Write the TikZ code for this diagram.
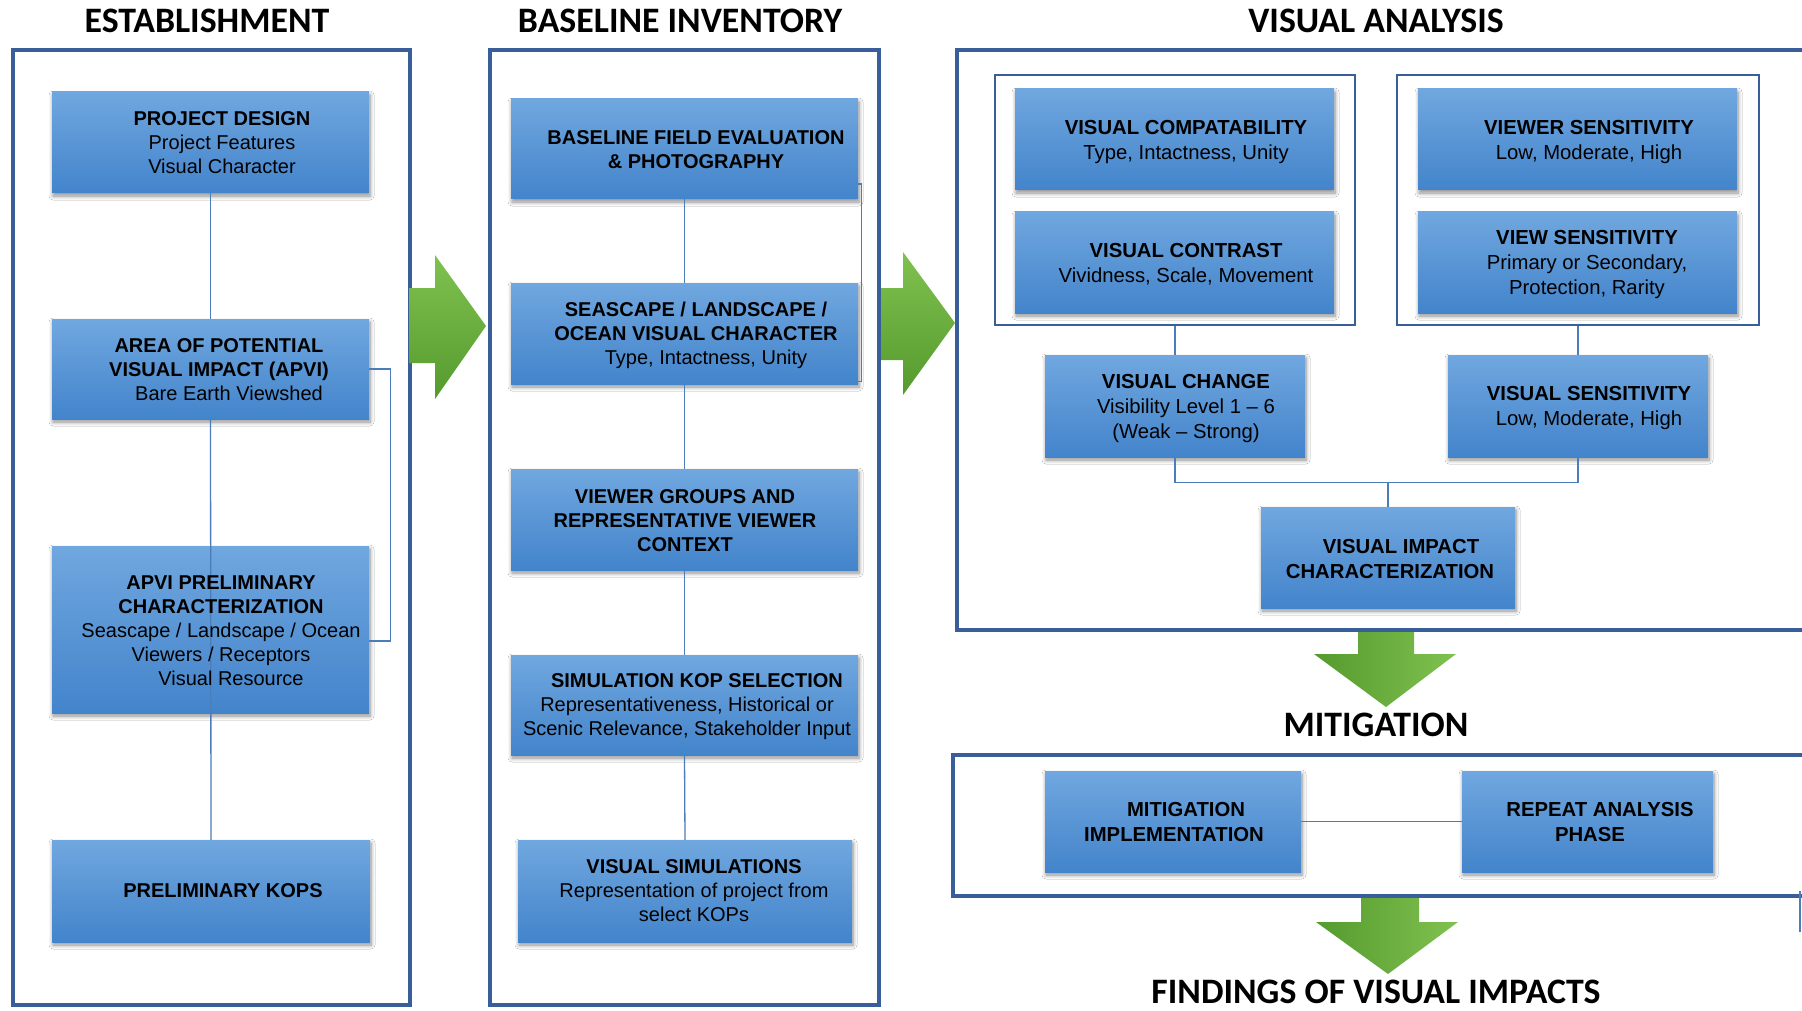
\documentclass[tikz,border=0pt]{standalone}
\usepackage{fontspec}
\setmainfont{Liberation Sans}
\newfontfamily\titlefont{Carlito}
\usetikzlibrary{shadows,shadows.blur,calc}
\definecolor{frameblue}{HTML}{3A5E99}
\definecolor{lineblue}{HTML}{4A7EBB}
\definecolor{boxtop}{HTML}{70A7DF}
\definecolor{boxbot}{HTML}{4384CB}
\definecolor{gdark}{HTML}{559A2E}
\definecolor{glight}{HTML}{80C250}
\begin{document}
\begin{tikzpicture}[x=1pt,y=-1pt,
  frame/.style={draw=frameblue, line width=4pt, inner sep=0pt},
  subframe/.style={draw=frameblue, line width=2pt, inner sep=0pt},
  bbox/.style={top color=boxtop, bottom color=boxbot, draw=none, inner sep=0pt,
    blur shadow={shadow xshift=1pt, shadow yshift=-3pt, shadow blur radius=4pt, shadow blur steps=6, shadow opacity=45}},
  txt/.style={align=center, inner sep=0pt, font=\fontsize{20}{24}\selectfont},
  vtxt/.style={align=center, inner sep=0pt, font=\fontsize{20.3}{25}\selectfont},
  ttl/.style={inner sep=0pt, font=\titlefont\bfseries\fontsize{35.8}{42}\selectfont},
  conn/.style={draw=lineblue, line width=1.3pt},
  rarrow/.style={top color=glight, bottom color=gdark},
  darrow/.style={left color=gdark, right color=glight}
]
\useasboundingbox (0,0) rectangle (1802,1011);
\clip (0,0) rectangle (1802,1011);
\fill[white] (0,0) rectangle (1802,1011);

% titles
\node[ttl] (t1) at (207,21) {ESTABLISHMENT};
\node[ttl] (t2) at (680,21) {BASELINE INVENTORY};
\node[ttl] (t3) at (1376,21) {VISUAL ANALYSIS};
\node[ttl] (t4) at (1376,725) {MITIGATION};
\node[ttl] (t5) at (1376,992) {FINDINGS OF VISUAL IMPACTS};

% frames
\node[frame, minimum width=397pt, minimum height=955pt] (est) at (211.5,527.5) {};
\node[frame, minimum width=389pt, minimum height=955pt] (base) at (684.5,527.5) {};
\node[frame, minimum width=855pt, minimum height=580pt] (va) at (1384.5,340) {};
\node[frame, minimum width=859pt, minimum height=141pt] (mit) at (1382.5,825.5) {};
\node[subframe, minimum width=360pt, minimum height=250pt] (lframe) at (1175,200) {};
\node[subframe, minimum width=362pt, minimum height=250pt] (rframe) at (1578,200) {};

% green arrows
\shade[rarrow] (409,288) -- (435,288) -- (435,255) -- (486,326) -- (435,399) -- (435,363) -- (409,363) -- cycle;
\shade[rarrow] (881,288) -- (903,288) -- (903,252) -- (955,323) -- (903,395) -- (903,360) -- (881,360) -- cycle;
\shade[darrow] (1358,632) -- (1414,632) -- (1414,654) -- (1456,654) -- (1386,707) -- (1314,654) -- (1358,654) -- cycle;
\shade[darrow] (1361,898) -- (1419,898) -- (1419,922) -- (1458,922) -- (1388,974) -- (1316,922) -- (1361,922) -- cycle;

% blue boxes
\node[bbox, minimum width=317pt, minimum height=101pt] (pd) at (210.5,142.5) {};
\node[bbox, minimum width=317pt, minimum height=100pt] (area) at (210.5,369) {};
\node[bbox, minimum width=317pt, minimum height=167pt] (prelim) at (210.5,629.5) {};
\node[bbox, minimum width=318pt, minimum height=102pt] (kops) at (211,891) {};

\node[bbox, minimum width=347pt, minimum height=100pt] (bfe) at (684.5,149) {};
\node[bbox, minimum width=347pt, minimum height=101pt] (sea) at (684.5,333.5) {};
\node[bbox, minimum width=347pt, minimum height=101pt] (vg) at (684.5,519.5) {};
\node[bbox, minimum width=347pt, minimum height=100pt] (skop) at (684.5,705) {};
\node[bbox, minimum width=334pt, minimum height=102pt] (vsim) at (685,891) {};

\node[bbox, minimum width=319pt, minimum height=101pt] (vcomp) at (1174.5,139.5) {};
\node[bbox, minimum width=319pt, minimum height=101pt] (vcon) at (1174.5,262.5) {};
\node[bbox, minimum width=319pt, minimum height=101pt] (viewer) at (1577.5,139.5) {};
\node[bbox, minimum width=319pt, minimum height=101pt] (view) at (1577.5,262.5) {};
\node[bbox, minimum width=260pt, minimum height=102pt] (vchange) at (1175,406) {};
\node[bbox, minimum width=260pt, minimum height=102pt] (vsens) at (1578,406) {};
\node[bbox, minimum width=254pt, minimum height=101pt] (vic) at (1388,557.5) {};
\node[bbox, minimum width=256pt, minimum height=101pt] (mimp) at (1173,821.5) {};
\node[bbox, minimum width=251pt, minimum height=101pt] (rep) at (1587.5,821.5) {};

% connectors
\draw[conn] (pd.south) -- (area.north);
\draw[conn] (area.south) -- (kops.north);
\draw[conn] (area.east) -- ++(21,0) |- ([yshift=-11.5pt]prelim.east);
\draw[conn] (bfe.south) -- (sea.north);
\draw[conn] (sea.south) -- (vg.north);
\draw[conn] (vg.south) -- (skop.north);
\draw[conn] (skop.south) -- (vsim.north);
\draw[conn] ([yshift=-35pt]bfe.east) -- ++(3.5,0) |- ([yshift=-48pt]sea.east);
\draw[conn] (lframe.south) -- (vchange.north);
\draw[conn] (rframe.south) -- (vsens.north);
\draw[conn] (vchange.south) -- ++(0,25) -| (vsens.south);
\draw[conn] (vic.north) -- ++(0,-25);
\draw[conn] (mimp.east) -- (rep.west);
\coordinate (edgeA) at (1800,891);
\coordinate (edgeB) at (1800,932);
\draw[conn] (edgeA) -- (edgeB);

% texts
\node[txt] (pdt) at (222,143) {\textbf{PROJECT DESIGN}\\Project Features\\Visual Character};
\node[txt] (areat) at (219,370) {\textbf{AREA OF POTENTIAL}\\\textbf{VISUAL IMPACT (APVI)}\\\hspace*{20pt}Bare Earth Viewshed};
\node[txt] (prelimt) at (221,631) {\textbf{APVI PRELIMINARY}\\\textbf{CHARACTERIZATION}\\Seascape / Landscape / Ocean\\Viewers / Receptors\\\hspace*{20pt}Visual Resource};
\node[txt] (kopst) at (223,891) {\textbf{PRELIMINARY KOPS}};

\node[txt] (bfet) at (696,150) {\textbf{BASELINE FIELD EVALUATION}\\\textbf{\& PHOTOGRAPHY}};
\node[txt] (seat) at (696,335) {\textbf{SEASCAPE / LANDSCAPE /}\\\textbf{OCEAN VISUAL CHARACTER}\\\hspace*{20pt}Type, Intactness, Unity};
\node[txt] (vgt) at (685,520.5) {\textbf{VIEWER GROUPS AND}\\\textbf{REPRESENTATIVE VIEWER}\\\textbf{CONTEXT}};
\node[txt] (skopt) at (687,706.5) {\hspace*{20pt}\textbf{SIMULATION KOP SELECTION}\\Representativeness, Historical or\\Scenic Relevance, Stakeholder Input};
\node[txt] (vsimt) at (694,891) {\textbf{VISUAL SIMULATIONS}\\Representation of project from\\select KOPs};

\node[vtxt] (vcompt) at (1186,142) {\textbf{VISUAL COMPATABILITY}\\Type, Intactness, Unity};
\node[vtxt] (vcont) at (1186,264) {\textbf{VISUAL CONTRAST}\\Vividness, Scale, Movement};
\node[vtxt] (viewert) at (1589,142) {\textbf{VIEWER SENSITIVITY}\\Low, Moderate, High};
\node[vtxt] (viewt) at (1587,265) {\textbf{VIEW SENSITIVITY}\\Primary or Secondary,\\Protection, Rarity};
\node[vtxt] (vchanget) at (1186,409) {\textbf{VISUAL CHANGE}\\Visibility Level 1 -- 6\\(Weak -- Strong)};
\node[vtxt] (vsenst) at (1589,408.5) {\textbf{VISUAL SENSITIVITY}\\Low, Moderate, High};
\node[vtxt] (vict) at (1390,559) {\hspace*{22pt}\textbf{VISUAL IMPACT}\\\textbf{CHARACTERIZATION}};
\node[vtxt] (mimpt) at (1174,822) {\hspace*{24pt}\textbf{MITIGATION}\\\textbf{IMPLEMENTATION}};
\node[vtxt] (rept) at (1590,822) {\hspace*{20pt}\textbf{REPEAT ANALYSIS}\\\textbf{PHASE}};
\end{tikzpicture}
\end{document}
